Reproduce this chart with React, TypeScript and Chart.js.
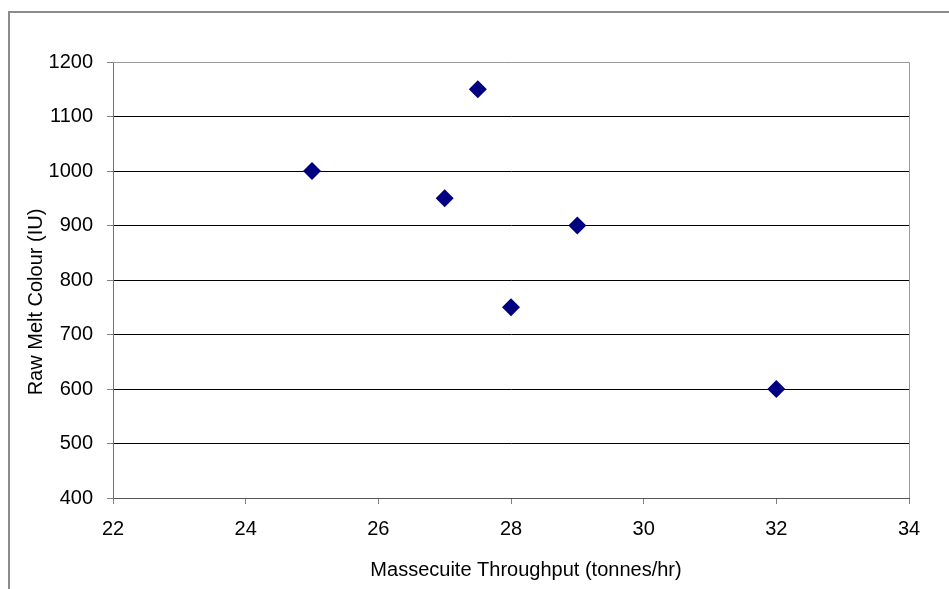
import React, { useEffect, useRef } from "react";
import { Chart, registerables } from "chart.js";

Chart.register(...registerables);

const throughput = [25, 27, 27.5, 28, 29, 32];
const meltColour = [1000, 950, 1150, 750, 900, 600];
const xTitle = "Massecuite Throughput (tonnes/hr)";
const yTitle = "Raw Melt Colour (IU)";
const FAMILY = "'Liberation Sans', Arial, sans-serif";

const framePlugin = {
  id: "frame",
  beforeDraw(chart: any) {
    const ctx = chart.ctx;
    ctx.save();
    ctx.fillStyle = "#ffffff";
    ctx.fillRect(0, 0, chart.width, chart.height);
    ctx.strokeStyle = "#8c8c8c";
    ctx.lineWidth = 2;
    ctx.strokeRect(9, 12, chart.width + 20, chart.height + 20);
    ctx.restore();
  },
  beforeDatasetsDraw(chart: any) {
    const { ctx, chartArea } = chart;
    ctx.save();
    ctx.strokeStyle = "#9a9a9a";
    ctx.lineWidth = 1;
    ctx.beginPath();
    ctx.moveTo(chartArea.left, chartArea.top + 0.5);
    ctx.lineTo(chartArea.right + 0.5, chartArea.top + 0.5);
    ctx.lineTo(chartArea.right + 0.5, chartArea.bottom);
    ctx.stroke();
    ctx.fillStyle = "#000";
    ctx.font = `20px ${FAMILY}`;
    ctx.textAlign = "center";
    ctx.textBaseline = "middle";
    // x-axis title
    ctx.fillText(xTitle, chartArea.left + (chartArea.right - chartArea.left) / 2 + 15, 570);
    // y-axis title
    ctx.translate(36, 302);
    ctx.rotate(-Math.PI / 2);
    ctx.fillText(yTitle, 0, 0);
    ctx.restore();
  },
};

export default function App() {
  const ref = useRef<HTMLCanvasElement | null>(null);
  useEffect(() => {
    document.body.style.margin = "0";
    if (!ref.current) return;
    const font = { family: FAMILY, size: 20 };
    const chart = new Chart(ref.current, {
      type: "scatter",
      data: {
        datasets: [
          {
            data: throughput.map((x, i) => ({ x, y: meltColour[i] })),
            backgroundColor: "#000080",
            borderColor: "#000080",
            borderWidth: 0,
            pointStyle: "rectRot",
            pointRadius: 9,
            pointHoverRadius: 9,
          },
        ],
      },
      options: {
        responsive: false,
        animation: false,
        events: [],
        layout: { padding: { top: 62, right: 40, left: 0, bottom: 0 } },
        plugins: { legend: { display: false }, tooltip: { enabled: false } },
        scales: {
          x: {
            type: "linear",
            min: 22,
            max: 34,
            ticks: {
              stepSize: 2,
              color: "#000",
              font,
              padding: 13,
              maxRotation: 0,
              callback: (v: any) => String(v),
            },
            grid: {
              drawOnChartArea: false,
              drawTicks: true,
              tickLength: 6,
              tickColor: "#808080",
            },
            border: { color: "#555555", width: 1 },
            title: { display: false },
            afterFit(scale: any) {
              scale.height = 91;
            },
          },
          y: {
            type: "linear",
            min: 400,
            max: 1200,
            ticks: {
              stepSize: 100,
              color: "#000",
              font,
              padding: 14,
              callback: (v: any) => String(v),
            },
            grid: {
              color: (c: any) => (c.tick && c.tick.value === 1200 ? "rgba(0,0,0,0)" : "#000000"),
              lineWidth: 1,
              drawTicks: true,
              tickLength: 6,
              tickColor: "#808080",
            },
            border: { color: "#707070", width: 1 },
            title: { display: false },
            afterFit(scale: any) {
              scale.width = 113;
            },
          },
        },
      },
      plugins: [framePlugin],
    });
    return () => chart.destroy();
  }, []);
  return (
    <canvas
      ref={ref}
      width={949}
      height={589}
      style={{ position: "absolute", left: 0, top: 0, width: 949, height: 589 }}
    />
  );
}
